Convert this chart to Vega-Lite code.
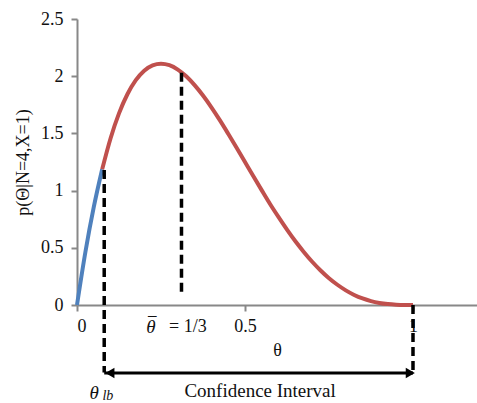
{
  "$schema": "https://vega.github.io/schema/vega-lite/v6.json",
  "width": 400,
  "height": 286,
  "autosize": {"type": "none"},
  "padding": {"left": 77, "top": 19, "right": 0, "bottom": 98},
  "background": "white",
  "config": {
    "view": {"stroke": null},
    "font": "Liberation Serif",
    "axis": {
      "domainColor": "#888888", "domainWidth": 2, "tickColor": "#888888", "tickWidth": 2,
      "tickSize": 6, "grid": false, "labelFont": "Liberation Serif", "labelFontSize": 18,
      "labelColor": "#111111", "titleFont": "Liberation Serif", "titleFontWeight": "normal",
      "titleColor": "#111111"
    }
  },
  "datasets": {
    "curve": [
      {"theta": 0, "p": 0, "series": "lb"},
      {"theta": 0.025, "p": 0.463, "series": "lb"},
      {"theta": 0.05, "p": 0.857, "series": "lb"},
      {"theta": 0.075, "p": 1.187, "series": "lb"},
      {"theta": 0.075, "p": 1.187, "series": "main"},
      {"theta": 0.1, "p": 1.458, "series": "main"},
      {"theta": 0.125, "p": 1.675, "series": "main"},
      {"theta": 0.15, "p": 1.842, "series": "main"},
      {"theta": 0.175, "p": 1.965, "series": "main"},
      {"theta": 0.2, "p": 2.048, "series": "main"},
      {"theta": 0.225, "p": 2.095, "series": "main"},
      {"theta": 0.25, "p": 2.109, "series": "main"},
      {"theta": 0.275, "p": 2.096, "series": "main"},
      {"theta": 0.3, "p": 2.058, "series": "main"},
      {"theta": 0.325, "p": 1.999, "series": "main"},
      {"theta": 0.35, "p": 1.922, "series": "main"},
      {"theta": 0.375, "p": 1.831, "series": "main"},
      {"theta": 0.4, "p": 1.728, "series": "main"},
      {"theta": 0.425, "p": 1.616, "series": "main"},
      {"theta": 0.45, "p": 1.497, "series": "main"},
      {"theta": 0.475, "p": 1.375, "series": "main"},
      {"theta": 0.5, "p": 1.25, "series": "main"},
      {"theta": 0.525, "p": 1.125, "series": "main"},
      {"theta": 0.55, "p": 1.002, "series": "main"},
      {"theta": 0.575, "p": 0.881, "series": "main"},
      {"theta": 0.6, "p": 0.768, "series": "main"},
      {"theta": 0.625, "p": 0.659, "series": "main"},
      {"theta": 0.65, "p": 0.557, "series": "main"},
      {"theta": 0.675, "p": 0.464, "series": "main"},
      {"theta": 0.7, "p": 0.378, "series": "main"},
      {"theta": 0.725, "p": 0.302, "series": "main"},
      {"theta": 0.75, "p": 0.234, "series": "main"},
      {"theta": 0.775, "p": 0.177, "series": "main"},
      {"theta": 0.8, "p": 0.128, "series": "main"},
      {"theta": 0.825, "p": 0.088, "series": "main"},
      {"theta": 0.85, "p": 0.057, "series": "main"},
      {"theta": 0.875, "p": 0.034, "series": "main"},
      {"theta": 0.9, "p": 0.018, "series": "main"},
      {"theta": 0.925, "p": 0.0078, "series": "main"},
      {"theta": 0.95, "p": 0.0024, "series": "main"},
      {"theta": 0.975, "p": 0.0003, "series": "main"},
      {"theta": 1.0, "p": 0, "series": "main"}
    ],
    "dashes": [
      {"x": 0.081, "y": 1.18, "y2": -0.59},
      {"x": 0.311, "y": 2.03, "y2": 0.09},
      {"x": 1.0, "y": 0, "y2": -0.59}
    ],
    "arrow": [{"x": 0.081, "x2": 1.0, "y": -0.594}],
    "heads": [
      {"x": 0.098, "y": -0.594, "shape": "triangle-left"},
      {"x": 0.992, "y": -0.594, "shape": "triangle-right"}
    ]
  },
  "layer": [
    {
      "data": {"name": "curve"},
      "mark": {"type": "line", "strokeWidth": 4, "interpolate": "monotone"},
      "encoding": {
        "x": {"field": "theta", "type": "quantitative",
              "scale": {"domain": [0, 1.1905], "nice": false, "zero": false},
              "axis": {"values": [0, 0.5, 1], "title": "θ", "titleFontSize": 18, "titlePadding": 6, "labelPadding": 6, "format": "~g"}},
        "y": {"field": "p", "type": "quantitative",
              "scale": {"domain": [0, 2.5], "nice": false},
              "axis": {"values": [0, 0.5, 1, 1.5, 2, 2.5], "title": "p(Θ|N=4,X=1)", "titleFontSize": 18, "titlePadding": 8, "labelPadding": 8, "format": "~g"}},
        "color": {"field": "series", "type": "nominal",
                  "scale": {"domain": ["lb", "main"], "range": ["#4F81BD", "#C0504D"]}, "legend": null},
        "order": {"field": "theta", "type": "quantitative"}
      }
    },
    {
      "data": {"name": "dashes"},
      "mark": {"type": "rule", "strokeDash": [9, 5], "strokeWidth": 3.5, "color": "black"},
      "encoding": {
        "x": {"field": "x", "type": "quantitative"},
        "y": {"field": "y", "type": "quantitative"},
        "y2": {"field": "y2"}
      }
    },
    {
      "data": {"name": "arrow"},
      "mark": {"type": "rule", "strokeWidth": 3, "color": "black"},
      "encoding": {
        "x": {"field": "x", "type": "quantitative"},
        "x2": {"field": "x2"},
        "y": {"field": "y", "type": "quantitative"}
      }
    },
    {
      "data": {"name": "heads"},
      "mark": {"type": "point", "filled": true, "color": "black", "opacity": 1, "size": 110},
      "encoding": {
        "x": {"field": "x", "type": "quantitative"},
        "y": {"field": "y", "type": "quantitative"},
        "shape": {"field": "shape", "type": "nominal", "scale": null}
      }
    },
    {
      "data": {"values": [{"x": 0.220, "y": -0.192, "t": "θ"}, {"x": 0.051, "y": -0.77, "t": "θ"}]},
      "mark": {"type": "text", "font": "Liberation Serif", "fontSize": 19, "fontStyle": "italic", "color": "#111111"},
      "encoding": {
        "x": {"field": "x", "type": "quantitative"},
        "y": {"field": "y", "type": "quantitative"},
        "text": {"field": "t"}
      }
    },
    {
      "data": {"values": [{"x": 0.224, "y": -0.165, "t": "¯"}]},
      "mark": {"type": "text", "font": "Liberation Serif", "fontSize": 17, "color": "#111111"},
      "encoding": {
        "x": {"field": "x", "type": "quantitative"},
        "y": {"field": "y", "type": "quantitative"},
        "text": {"field": "t"}
      }
    },
    {
      "data": {"values": [{"x": 0.33, "y": -0.192, "t": "= 1/3"}]},
      "mark": {"type": "text", "font": "Liberation Serif", "fontSize": 18, "color": "#111111"},
      "encoding": {
        "x": {"field": "x", "type": "quantitative"},
        "y": {"field": "y", "type": "quantitative"},
        "text": {"field": "t"}
      }
    },
    {
      "data": {"values": [{"x": 0.092, "y": -0.795, "t": "lb"}]},
      "mark": {"type": "text", "font": "Liberation Serif", "fontSize": 14, "fontStyle": "italic", "color": "#111111"},
      "encoding": {
        "x": {"field": "x", "type": "quantitative"},
        "y": {"field": "y", "type": "quantitative"},
        "text": {"field": "t"}
      }
    },
    {
      "data": {"values": [{"x": 0.545, "y": -0.752, "t": "Confidence Interval"}]},
      "mark": {"type": "text", "font": "Liberation Serif", "fontSize": 19, "color": "#111111"},
      "encoding": {
        "x": {"field": "x", "type": "quantitative"},
        "y": {"field": "y", "type": "quantitative"},
        "text": {"field": "t"}
      }
    }
  ]
}
